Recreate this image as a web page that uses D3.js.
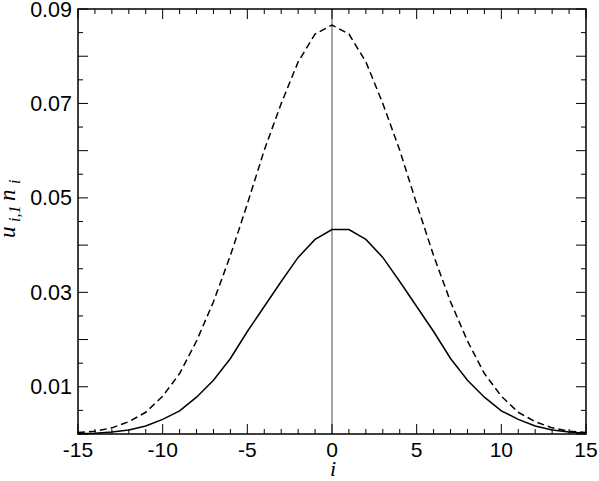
<!DOCTYPE html>
<html><head><meta charset="utf-8">
<script src="https://cdn.jsdelivr.net/npm/d3@7"></script>
<style>body{margin:0;background:#fff}svg{display:block}</style>
</head><body>
<script>
const iValues = d3.range(-15, 16);
const uValues = [0.00005,0.00015,0.0004,0.00085,0.0017,0.0031,0.0049,0.0078,0.0114,0.0160,0.0217,0.0270,0.0323,0.0374,0.0412,0.0433,
                 0.0433,0.0412,0.0374,0.0323,0.0270,0.0217,0.0160,0.0114,0.0078,0.0049,0.0031,0.0017,0.00085,0.0004,0.00015];
const nValues = [0.0003,0.0006,0.0013,0.0026,0.0046,0.0080,0.0128,0.0197,0.0280,0.0378,0.0487,0.0601,0.0700,0.0788,0.0847,0.0866,
                 0.0847,0.0788,0.0700,0.0601,0.0487,0.0378,0.0280,0.0197,0.0128,0.0080,0.0046,0.0026,0.0013,0.0006,0.0003];
const xTickLabels = [-15,-10,-5,0,5,10,15];
const yTickLabels = [0.01,0.03,0.05,0.07,0.09];

const W = 599, H = 481;
const m = {left:78, right:13, top:9, bottom:47};
const svg = d3.select("body").append("svg").attr("width",W).attr("height",H);
const x = d3.scaleLinear().domain([-15,15]).range([m.left, W-m.right]);
const y = d3.scaleLinear().domain([0,0.09]).range([H-m.bottom, m.top]);
const x0 = x.range()[0], x1 = x.range()[1], y0 = y.range()[0], y1 = y.range()[1];

svg.append("line").attr("x1",x(0)).attr("x2",x(0)).attr("y1",y1).attr("y2",y0)
  .attr("stroke","#888").attr("stroke-width",1.5);

const line = d3.line().x((d,k)=>x(iValues[k])).y(d=>y(d));
svg.append("path").datum(nValues).attr("d",line).attr("fill","none")
  .attr("stroke","#000").attr("stroke-width",1.5).attr("stroke-dasharray","7,4");
svg.append("path").datum(uValues).attr("d",line).attr("fill","none")
  .attr("stroke","#000").attr("stroke-width",1.5);

const g = svg.append("g").attr("stroke","#000").attr("stroke-width",1);
d3.range(-15,16).forEach(v=>{
  const L = (v%5===0)?10:5;
  g.append("line").attr("x1",x(v)).attr("x2",x(v)).attr("y1",y0).attr("y2",y0-L);
  g.append("line").attr("x1",x(v)).attr("x2",x(v)).attr("y1",y1).attr("y2",y1+L);
});
d3.range(0,19).forEach(k=>{
  const v = k*0.005;
  const L = (k%2===0)?10:5;
  g.append("line").attr("x1",x0).attr("x2",x0+L).attr("y1",y(v)).attr("y2",y(v));
  g.append("line").attr("x1",x1).attr("x2",x1-L).attr("y1",y(v)).attr("y2",y(v));
});
svg.append("rect").attr("x",x0).attr("y",y1).attr("width",x1-x0).attr("height",y0-y1)
  .attr("fill","none").attr("stroke","#000").attr("stroke-width",1.5);

const font = "Liberation Sans, Arial, Helvetica, sans-serif";
svg.selectAll(".xl").data(xTickLabels).enter().append("text")
  .attr("x",d=>x(d)).attr("y",y0+23).attr("text-anchor","middle")
  .attr("font-family",font).attr("font-size",21).text(d=>d);
svg.selectAll(".yl").data(yTickLabels).enter().append("text")
  .attr("x",x0-6).attr("y",d=>y(d)+7.5).attr("text-anchor","end")
  .attr("font-family",font).attr("font-size",21.5).text(d=>d.toFixed(2));

const serif = "Liberation Serif, Times New Roman, serif";
svg.append("text").attr("x",x(0)+1).attr("y",476).attr("text-anchor","middle")
  .attr("font-family",serif).attr("font-style","italic").attr("font-size",22).text("i");

const yl = svg.append("text").attr("transform","translate(15,238) rotate(-90)")
  .attr("text-anchor","start").attr("font-family",serif).attr("font-style","italic").attr("font-size",23);
yl.append("tspan").attr("x",0).attr("y",0).text("u");
yl.append("tspan").attr("x",16).attr("y",5).attr("font-size",16).text("i,1");
yl.append("tspan").attr("x",37).attr("y",0).text("n");
yl.append("tspan").attr("x",54).attr("y",5).attr("font-size",16).text("i");
</script>
</body></html>
